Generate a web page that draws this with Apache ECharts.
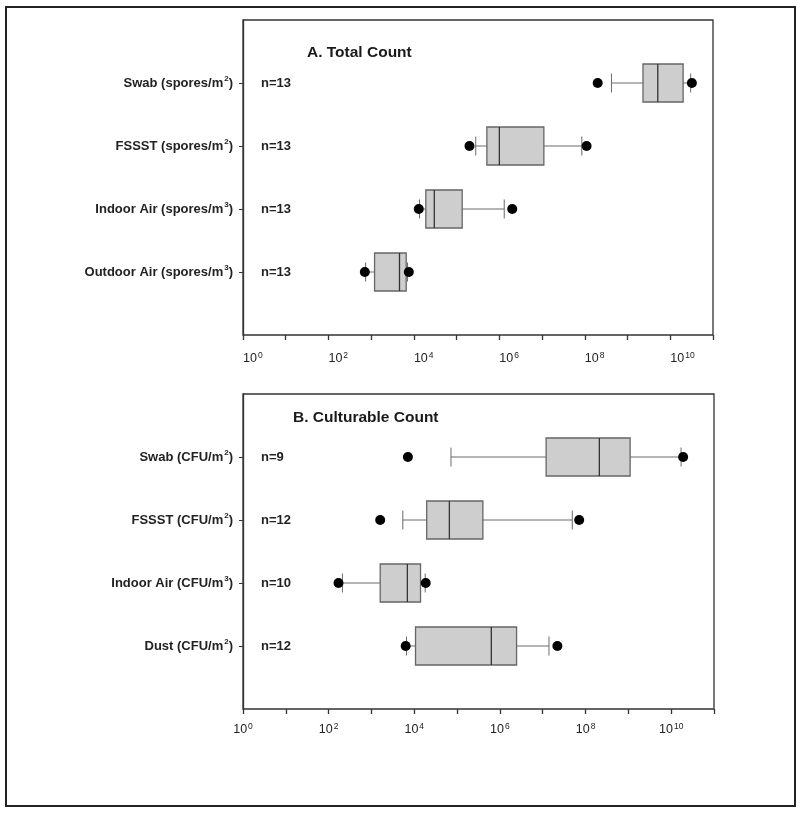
<!DOCTYPE html>
<html>
<head>
<meta charset="utf-8">
<script src="https://cdn.jsdelivr.net/npm/echarts/dist/echarts.min.js"></script>
<style>
  html, body { margin: 0; padding: 0; background: #fff; }
  #chart { width: 800px; height: 814px; }
</style>
</head>
<body>
<div id="chart"></div>
<script>
// panel A: total count (top to bottom as in the figure)
var groupsA = ['Swab (spores/m²)', 'FSSST (spores/m²)', 'Indoor Air (spores/m³)', 'Outdoor Air (spores/m³)']
var countsA = ['n=13', 'n=13', 'n=13', 'n=13']
var lowA = [4.2e8, 2.8e5, 1.35e4, 7.4e2]
var q1A = [2.3e9, 5.1e5, 1.9e4, 1.2e3]
var medA = [5.1e9, 1.0e6, 3.0e4, 4.6e3]
var q3A = [2.0e10, 1.1e7, 1.35e5, 6.6e3]
var highA = [3.0e10, 8.5e7, 1.3e6, 7.1e3]
var outA = [[2.0e8, 3.2e10], [2.0e5, 1.1e8], [1.3e4, 2.0e6], [7.1e2, 7.6e3]]

// panel B: culturable count
var groupsB = ['Swab (CFU/m²)', 'FSSST (CFU/m²)', 'Indoor Air (CFU/m³)', 'Dust (CFU/m²)']
var countsB = ['n=9', 'n=12', 'n=10', 'n=12']
var lowB = [7.2e4, 5.4e3, 2.1e2, 6.6e3]
var q1B = [1.2e7, 1.95e4, 1.6e3, 1.07e4]
var medB = [2.1e8, 6.6e4, 6.9e3, 6.3e5]
var q3B = [1.1e9, 4.0e5, 1.4e4, 2.45e6]
var highB = [1.7e10, 4.9e7, 1.8e4, 1.4e7]
var outB = [[7.1e3, 1.9e10], [1.6e3, 7.1e7], [1.7e2, 1.85e4], [6.3e3, 2.2e7]]

var font = 'Arial, "Liberation Sans", Helvetica, sans-serif'

// category slots: '' at bottom and top, groups in between (bottom first)
function slots(groups) {
  return [''].concat(groups.slice().reverse()).concat([''])
}

function boxData(low, q1, med, q3, high) {
  return low.map(function(v, i) {
    return [low.length - i, low[i], q1[i], med[i], q3[i], high[i]]
  })
}

function outlierData(out) {
  var pts = []
  out.forEach(function(pair, i) {
    pair.forEach(function(v) {
      pts.push([v, out.length - i])
    })
  })
  return pts
}

function renderBox(params, api) {
  var y = api.value(0)
  var lo = api.coord([api.value(1), y])
  var b1 = api.coord([api.value(2), y])
  var md = api.coord([api.value(3), y])
  var b3 = api.coord([api.value(4), y])
  var hi = api.coord([api.value(5), y])
  var h = 38
  var cy = lo[1]
  var whisker = { stroke: '#6a6a6a', lineWidth: 1 }
  return {
    type: 'group',
    children: [
      { type: 'line', shape: { x1: lo[0], y1: cy, x2: b1[0], y2: cy }, style: whisker },
      { type: 'line', shape: { x1: b3[0], y1: cy, x2: hi[0], y2: cy }, style: whisker },
      { type: 'line', shape: { x1: lo[0], y1: cy - h / 4, x2: lo[0], y2: cy + h / 4 }, style: whisker },
      { type: 'line', shape: { x1: hi[0], y1: cy - h / 4, x2: hi[0], y2: cy + h / 4 }, style: whisker },
      {
        type: 'rect',
        shape: { x: b1[0], y: cy - h / 2, width: b3[0] - b1[0], height: h },
        style: { fill: '#cecece', stroke: '#666', lineWidth: 1.3 }
      },
      { type: 'line', shape: { x1: md[0], y1: cy - h / 2, x2: md[0], y2: cy + h / 2 }, style: { stroke: '#333', lineWidth: 1.3 } }
    ]
  }
}

function logLabel(value) {
  var e = Math.round(Math.log10(value))
  if (e % 2 !== 0) return ''
  return '{b|10}{s|' + e + '}'
}

function xAxis(gridIndex, align, margin) {
  return {
    type: 'log',
    logBase: 10,
    gridIndex: gridIndex,
    min: 1,
    max: 1e11,
    interval: 1,
    axisLine: { lineStyle: { color: '#333', width: 1.3 } },
    axisTick: { show: true, length: 5, lineStyle: { color: '#333', width: 1.3 } },
    splitLine: { show: false },
    minorTick: { show: false },
    axisLabel: {
      formatter: logLabel,
      margin: margin,
      align: align,
      color: '#222',
      fontFamily: font,
      rich: {
        b: { fontSize: 12.5, fontFamily: font, color: '#222', lineHeight: 15 },
        s: { fontSize: 8.5, fontFamily: font, color: '#222', verticalAlign: 'top', lineHeight: 15, padding: [0, 0, 0, 1] }
      }
    }
  }
}

// turn the ² / ³ in a group name into a rich-text superscript
function supLabel(value) {
  if (!value) return ''
  return '{a|' + value.replace('²', '}{s|2}{a|').replace('³', '}{s|3}{a|') + '}'
}

function nameAxis(gridIndex, groups) {
  return {
    type: 'category',
    gridIndex: gridIndex,
    boundaryGap: false,
    data: slots(groups),
    axisLine: { lineStyle: { color: '#333', width: 1.3 } },
    axisTick: {
      length: 4,
      interval: function(index) { return index > 0 && index <= groups.length },
      lineStyle: { color: '#333', width: 1 }
    },
    axisLabel: {
      interval: 0,
      margin: 10,
      formatter: supLabel,
      rich: {
        a: { fontSize: 13, fontWeight: 'bold', fontFamily: font, color: '#222', lineHeight: 16 },
        s: { fontSize: 8, fontWeight: 'bold', fontFamily: font, color: '#222', verticalAlign: 'top', lineHeight: 16, padding: [0, 0, 0, 1] }
      }
    },
    splitLine: { show: false }
  }
}

function countAxis(gridIndex, groups, counts) {
  return {
    type: 'category',
    gridIndex: gridIndex,
    position: 'left',
    offset: 0,
    boundaryGap: false,
    data: slots(groups),
    axisLine: { show: false },
    axisTick: { show: false },
    axisLabel: {
      inside: true,
      interval: 0,
      margin: 18,
      fontSize: 13,
      fontWeight: 'bold',
      fontFamily: font,
      color: '#222',
      formatter: function(value, index) {
        var k = groups.length - index
        return counts[k] !== undefined && index > 0 ? counts[k] : ''
      }
    },
    splitLine: { show: false }
  }
}

var option = {
  backgroundColor: '#fff',
  animation: false,
  title: [
    { text: 'A. Total Count', left: 307, top: 45, padding: 0, textStyle: { fontSize: 15.5, fontWeight: 'bold', fontFamily: font, color: '#1a1a1a' } },
    { text: 'B. Culturable Count', left: 293, top: 410, padding: 0, textStyle: { fontSize: 15.5, fontWeight: 'bold', fontFamily: font, color: '#1a1a1a' } }
  ],
  grid: [
    { left: 243, top: 20, width: 470, height: 315, show: true, borderColor: '#333', borderWidth: 1.3, backgroundColor: 'transparent' },
    { left: 243, top: 394, width: 471, height: 315, show: true, borderColor: '#333', borderWidth: 1.3, backgroundColor: 'transparent' }
  ],
  xAxis: [xAxis(0, 'left', 16), xAxis(1, 'center', 13)],
  yAxis: [
    nameAxis(0, groupsA),
    countAxis(0, groupsA, countsA),
    nameAxis(1, groupsB),
    countAxis(1, groupsB, countsB)
  ],
  graphic: [
    { type: 'rect', shape: { x: 6, y: 7, width: 789, height: 799 }, style: { fill: 'none', stroke: '#222', lineWidth: 2 }, silent: true }
  ],
  series: [
    {
      type: 'custom',
      xAxisIndex: 0,
      yAxisIndex: 0,
      renderItem: renderBox,
      encode: { x: [1, 2, 3, 4, 5], y: 0 },
      data: boxData(lowA, q1A, medA, q3A, highA)
    },
    {
      type: 'scatter',
      xAxisIndex: 0,
      yAxisIndex: 0,
      symbol: 'circle',
      symbolSize: 10,
      itemStyle: { color: '#000', opacity: 1 },
      data: outlierData(outA)
    },
    {
      type: 'custom',
      xAxisIndex: 1,
      yAxisIndex: 2,
      renderItem: renderBox,
      encode: { x: [1, 2, 3, 4, 5], y: 0 },
      data: boxData(lowB, q1B, medB, q3B, highB)
    },
    {
      type: 'scatter',
      xAxisIndex: 1,
      yAxisIndex: 2,
      symbol: 'circle',
      symbolSize: 10,
      itemStyle: { color: '#000', opacity: 1 },
      data: outlierData(outB)
    }
  ]
}

var myChart = echarts.init(document.getElementById('chart'), null, { renderer: 'canvas' })
myChart.setOption(option)
</script>
</body>
</html>
